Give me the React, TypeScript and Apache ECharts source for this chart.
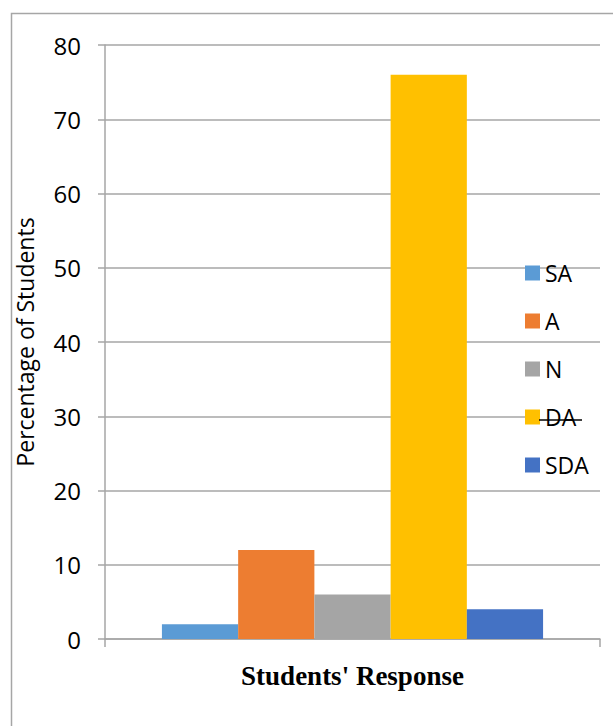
import React, { useEffect, useRef } from "react";
import * as echarts from "echarts";

// Survey response shares (percent of students)
const responses = ["SA", "A", "N", "DA", "SDA"];
const percentages = [2, 12, 6, 76, 4];
const colors = ["#5b9bd5", "#ed7d31", "#a5a5a5", "#ffc000", "#4472c4"];
const categories = [""];
const yTicks = { min: 0, max: 80, interval: 10 };

export default function App() {
  const ref = useRef<HTMLDivElement>(null);

  useEffect(() => {
    if (!ref.current) return;
    const chart = echarts.init(ref.current, null, { renderer: "svg" });
    const font = "'Open Sans', 'Noto Sans', sans-serif";
    chart.setOption({
      animation: false,
      backgroundColor: "#ffffff",
      graphic: [
        {
          type: "rect",
          left: 9,
          top: 11,
          shape: { width: 700, height: 800 },
          style: { fill: "none", stroke: "#a6a6a6", lineWidth: 1.5 },
          silent: true,
        },
        // blank strip behind the struck-through "DA" entry
        {
          type: "rect",
          shape: { x: 540, y: 412, width: 62, height: 8 },
          style: { fill: "#ffffff" },
          z: 3,
          silent: true,
        },
        {
          type: "line",
          shape: { x1: 539, y1: 420, x2: 582, y2: 420 },
          style: { stroke: "#000000", lineWidth: 1.5 },
          z: 100,
          silent: true,
        },
      ],
      grid: { left: 105, right: 13, top: 45, bottom: 87, containLabel: false },
      legend: {
        orient: "vertical",
        left: 525,
        top: 261,
        padding: 0,
        itemWidth: 15,
        itemHeight: 15,
        itemGap: 24,
        icon: "rect",
        data: responses,
        textStyle: { fontFamily: font, fontSize: 23, color: "#000", lineHeight: 24, padding: [0, 0, 0, 0] },
      },
      xAxis: {
        type: "category",
        data: categories,
        name: "Students' Response",
        nameLocation: "middle",
        nameGap: 23,
        nameTextStyle: {
          fontFamily: "'Liberation Serif', 'Times New Roman', serif",
          fontWeight: "bold",
          fontSize: 27,
          color: "#000",
        },
        axisLine: { lineStyle: { color: "#a6a6a6", width: 1.5 } },
        axisTick: { show: true, length: 8, lineStyle: { color: "#a6a6a6", width: 1.5 } },
        axisLabel: { show: false },
      },
      yAxis: {
        type: "value",
        min: yTicks.min,
        max: yTicks.max,
        interval: yTicks.interval,
        name: "Percentage of Students",
        nameLocation: "middle",
        nameGap: 69,
        nameTextStyle: { fontFamily: font, fontSize: 23, color: "#000" },
        axisLine: { show: true, lineStyle: { color: "#a6a6a6", width: 1.5 } },
        axisTick: { show: true, length: 7, lineStyle: { color: "#a6a6a6", width: 1.5 } },
        axisLabel: { fontFamily: font, fontSize: 24, color: "#000", margin: 24 },
        splitLine: { lineStyle: { color: "#a6a6a6", width: 1.5 } },
      },
      series: responses.map((name, i) => ({
        name,
        type: "bar",
        data: [percentages[i]],
        itemStyle: { color: colors[i] },
        barGap: "0%",
        barCategoryGap: "23%",
      })),
    });
    return () => chart.dispose();
  }, []);

  return (
    <div
      ref={ref}
      style={{ position: "fixed", left: 0, top: 0, width: 613, height: 726 }}
    />
  );
}
